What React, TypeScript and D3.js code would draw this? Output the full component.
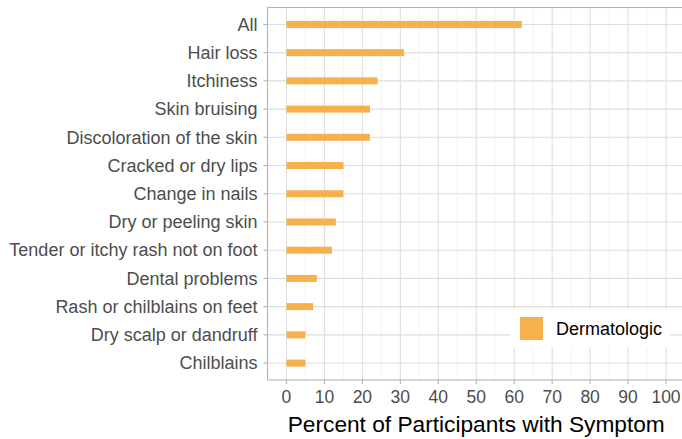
import React from "react";
import * as d3 from "d3";

const categories = [
  "All",
  "Hair loss",
  "Itchiness",
  "Skin bruising",
  "Discoloration of the skin",
  "Cracked or dry lips",
  "Change in nails",
  "Dry or peeling skin",
  "Tender or itchy rash not on foot",
  "Dental problems",
  "Rash or chilblains on feet",
  "Dry scalp or dandruff",
  "Chilblains",
];
const values = [62, 31, 24, 22, 22, 15, 15, 13, 12, 8, 7, 5, 5];
const xTicks = [0, 10, 20, 30, 40, 50, 60, 70, 80, 90, 100];
const minorTicks = [5, 15, 25, 35, 45, 55, 65, 75, 85, 95];
const seriesName = "Dermatologic";

const W = 682;
const H = 439;
const panel = { left: 267.5, right: 685, top: 7.5, bottom: 380 };
const barColor = "#f6b04c";
const font = "'Liberation Sans', Arial, sans-serif";

export default function App() {
  const x = d3.scaleLinear().domain([-5, 105]).range([panel.left, panel.right]);
  const y = d3
    .scaleLinear()
    .domain([0.4, 13.6])
    .range([panel.top, panel.bottom]);
  const yPos = (i: number) => y(i + 1);
  const barH = 7;

  return (
    <svg
      width={W}
      height={H}
      style={{ position: "absolute", left: 0, top: 0, background: "#fff" }}
      fontFamily={font}
    >
      <rect x={0} y={0} width={W} height={H} fill="#fff" />
      {minorTicks.map((t) => (
        <line
          key={"mn" + t}
          x1={x(t)}
          x2={x(t)}
          y1={panel.top}
          y2={panel.bottom}
          stroke="#ebebeb"
          strokeWidth={0.6}
        />
      ))}
      {xTicks.map((t) => (
        <line
          key={"mj" + t}
          x1={x(t)}
          x2={x(t)}
          y1={panel.top}
          y2={panel.bottom}
          stroke="#dedede"
          strokeWidth={1.1}
        />
      ))}
      {categories.map((c, i) => (
        <line
          key={"hg" + c}
          x1={panel.left}
          x2={panel.right}
          y1={yPos(i)}
          y2={yPos(i)}
          stroke="#dedede"
          strokeWidth={1.1}
        />
      ))}
      {categories.map((c, i) => (
        <rect
          key={"b" + c}
          x={x(0)}
          y={yPos(i) - barH / 2}
          width={x(values[i]) - x(0)}
          height={barH}
          fill={barColor}
        />
      ))}
      <rect
        x={panel.left}
        y={panel.top}
        width={panel.right - panel.left}
        height={panel.bottom - panel.top}
        fill="none"
        stroke="#b3b3b3"
        strokeWidth={1.1}
      />
      {categories.map((c, i) => (
        <g key={"yl" + c}>
          <line
            x1={panel.left - 4}
            x2={panel.left}
            y1={yPos(i)}
            y2={yPos(i)}
            stroke="#b3b3b3"
            strokeWidth={1.1}
          />
          <text
            x={panel.left - 10}
            y={yPos(i)}
            dy="0.35em"
            textAnchor="end"
            fontSize={18}
            fill="#4d4d4d"
          >
            {c}
          </text>
        </g>
      ))}
      {xTicks.map((t) => (
        <g key={"xl" + t}>
          <line
            x1={x(t)}
            x2={x(t)}
            y1={panel.bottom}
            y2={panel.bottom + 4}
            stroke="#b3b3b3"
            strokeWidth={1.1}
          />
          <text
            x={x(t)}
            y={403}
            textAnchor="middle"
            fontSize={17.5}
            fill="#4d4d4d"
          >
            {t}
          </text>
        </g>
      ))}
      <text
        x={(x(0) + x(100)) / 2}
        y={432}
        textAnchor="middle"
        fontSize={22.7}
        fill="#000"
      >
        Percent of Participants with Symptom
      </text>
      <rect x={510} y={309} width={160} height={38} fill="#fff" />
      <rect x={520} y={317} width={23} height={23} fill={barColor} />
      <text x={556} y={335} fontSize={18} fill="#000">
        {seriesName}
      </text>
    </svg>
  );
}
